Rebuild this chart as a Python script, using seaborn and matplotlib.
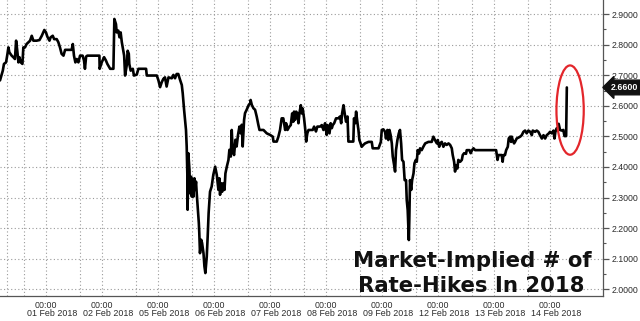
import numpy as np
import pandas as pd
import matplotlib
matplotlib.use("Agg")
import matplotlib.pyplot as plt
import matplotlib.transforms as mtrans
from matplotlib.patches import Ellipse
from matplotlib.ticker import MultipleLocator
import seaborn as sns

# ---------------- data ----------------
# trading sessions shown on the axis (each session spans 24 axis-hours)
session_dates = ["01 Feb 2018", "02 Feb 2018", "05 Feb 2018", "06 Feb 2018", "07 Feb 2018",
                 "08 Feb 2018", "09 Feb 2018", "12 Feb 2018", "13 Feb 2018", "14 Feb 2018"]
midnight_label = "00:00"
midnight_offset = 9.4          # position of 00:00 inside each session (axis-hours)

# time in axis-hours since start of the 01 Feb session
hours = [
    -10.3, -9.1, -8.6, -7.7, -7.1, -6.7, -6.3, -5.3, -4.6, -3.9, -3.4, -2.9, -2.4, -2.0, -1.4, -0.7, -0.3,
    0.4, 1.1, 1.9, 2.6, 3.3, 4.0, 5.4, 6.6, 7.6, 8.7, 9.4, 10.0, 10.9, 11.4, 12.3, 12.9, 14.0, 14.7, 15.4,
    16.1, 16.9, 17.6, 18.3, 20.4, 20.9, 21.4, 22.0, 22.6, 23.3, 24.0, 25.1, 25.7, 26.1, 26.6, 27.1, 32.3,
    32.4, 33.3, 34.3, 35.1, 35.7, 36.9, 38.3, 38.7, 39.4, 39.7, 40.4, 40.9, 41.4, 41.9, 42.3, 42.9, 43.3,
    44.0, 44.4, 44.9, 45.1, 45.7, 46.6, 47.1, 48.3, 49.0, 52.3, 52.6, 56.9, 57.6, 58.3, 59.0, 59.7, 60.4,
    61.1, 61.9, 63.3, 64.0, 64.7, 65.4, 66.1, 66.9, 67.6, 68.0, 68.6, 69.0, 69.4, 69.7, 70.0, 70.1, 70.4,
    70.9, 71.1, 71.6, 71.9, 72.3, 72.6, 73.0, 73.3, 73.7, 74.0, 74.4, 74.9, 75.1, 75.4, 75.9, 76.3, 76.9,
    77.3, 77.7, 78.3, 78.7, 79.1, 79.7, 80.4, 81.1, 81.9, 82.6, 83.3, 83.7, 84.0, 84.4, 84.9, 85.4, 85.9,
    86.3, 86.9, 87.6, 88.0, 88.6, 89.0, 89.4, 90.0, 90.6, 91.1, 91.7, 92.3, 92.9, 93.3, 93.7, 94.3, 94.7,
    95.4, 96.3, 96.9, 97.1, 97.6, 98.3, 99.0, 99.7, 100.4, 100.9, 102.6, 104.0, 105.4, 106.6, 106.9,
    108.3, 109.0, 109.7, 110.4, 111.1, 111.9, 112.3, 112.9, 113.7, 114.3, 114.9, 115.4, 115.7, 116.1,
    116.6, 117.1, 117.6, 118.0, 118.6, 119.0, 119.4, 120.0, 120.6, 120.9, 121.4, 121.9, 123.7, 124.3,
    125.1, 125.7, 126.9, 127.6, 128.3, 129.0, 129.7, 130.1, 130.9, 131.4, 131.9, 132.3, 132.9, 133.7,
    134.7, 135.4, 135.9, 136.3, 136.9, 137.6, 138.0, 138.6, 139.0, 141.1, 141.4, 141.9, 142.3, 142.9,
    143.3, 143.7, 144.0, 144.7, 145.4, 146.1, 147.6, 149.0, 149.4, 151.9, 152.9, 153.3, 154.0, 154.7,
    155.1, 155.7, 156.1, 156.6, 157.1, 157.6, 158.0, 158.6, 159.0, 159.4, 160.0, 160.6, 161.1, 161.6,
    162.0, 162.6, 163.1, 163.7, 164.0, 164.4, 164.9, 165.1, 165.4, 165.9, 166.3, 166.9, 167.3, 167.9,
    168.3, 168.7, 169.3, 169.7, 170.4, 171.1, 171.9, 173.3, 174.7, 175.4, 176.1, 176.9, 177.3, 177.9,
    178.3, 179.0, 179.7, 180.4, 181.1, 181.9, 182.6, 183.3, 183.7, 184.3, 184.7, 185.1, 185.7, 186.1,
    186.9, 187.6, 188.0, 188.6, 189.4, 189.7, 190.9, 191.4, 192.0, 192.6, 193.3, 202.3, 202.6, 202.9,
    203.3, 204.7, 205.1, 205.4, 206.1, 206.6, 207.3, 207.7, 208.3, 208.7, 209.0, 209.4, 210.0, 210.4,
    211.1, 212.6, 213.3, 214.0, 214.7, 215.4, 216.1, 216.9, 217.6, 218.0, 219.0, 219.7, 220.4, 221.1,
    221.9, 222.6, 223.3, 224.0, 224.9, 225.4, 226.1, 226.9, 227.3, 227.7, 228.3, 228.7, 229.1, 229.7,
    230.4, 231.1, 231.6, 232.3, 232.6,
]
values = [
    2.683, 2.715, 2.737, 2.742, 2.770, 2.791, 2.775, 2.764, 2.759, 2.753, 2.813, 2.780, 2.742, 2.759, 2.742, 2.737, 2.791,
    2.791, 2.802, 2.808, 2.813, 2.829, 2.813, 2.813, 2.815, 2.829, 2.848, 2.840, 2.826, 2.813, 2.824, 2.829, 2.818, 2.818, 2.808, 2.791,
    2.770, 2.764, 2.783, 2.783, 2.783, 2.802, 2.764, 2.742, 2.753, 2.742, 2.764, 2.764, 2.748, 2.721, 2.761, 2.764, 2.764,
    2.721, 2.742, 2.759, 2.748, 2.737, 2.721, 2.721, 2.884, 2.867, 2.840, 2.846, 2.824, 2.840, 2.808, 2.791, 2.764, 2.699,
    2.732, 2.780, 2.770, 2.737, 2.715, 2.721, 2.699, 2.702, 2.721, 2.721, 2.699, 2.699, 2.683, 2.661, 2.677, 2.688, 2.693,
    2.663, 2.693, 2.690, 2.701, 2.690, 2.704, 2.704, 2.684, 2.668, 2.641, 2.586, 2.554, 2.521, 2.467, 2.368, 2.260, 2.445,
    2.390, 2.314, 2.368, 2.303, 2.358, 2.303, 2.363, 2.325, 2.352, 2.314, 2.271, 2.217, 2.184, 2.118, 2.162, 2.151, 2.118,
    2.075, 2.053, 2.107, 2.173, 2.249, 2.319, 2.336, 2.374, 2.401, 2.374, 2.325, 2.363, 2.309, 2.347, 2.319, 2.347, 2.325,
    2.379, 2.401, 2.423, 2.456, 2.434, 2.521, 2.456, 2.439, 2.489, 2.467, 2.505, 2.532, 2.510, 2.538, 2.467, 2.554, 2.576,
    2.587, 2.603, 2.608, 2.619, 2.603, 2.592, 2.587, 2.565, 2.538, 2.521, 2.521, 2.510, 2.505, 2.499, 2.483,
    2.483, 2.499, 2.521, 2.559, 2.559, 2.521, 2.543, 2.521, 2.532, 2.537, 2.575, 2.548, 2.581, 2.554,
    2.581, 2.575, 2.543, 2.575, 2.602, 2.575, 2.591, 2.559, 2.516, 2.483, 2.510, 2.521, 2.521, 2.532,
    2.516, 2.532, 2.532, 2.537, 2.521, 2.543, 2.505, 2.537, 2.510, 2.543, 2.527, 2.537, 2.543, 2.559,
    2.559, 2.565, 2.543, 2.575, 2.602, 2.565, 2.548, 2.565, 2.483, 2.483, 2.559, 2.543, 2.581, 2.543,
    2.521, 2.488, 2.482, 2.466, 2.472, 2.477, 2.482, 2.482, 2.461, 2.461, 2.482, 2.521, 2.523, 2.515,
    2.493, 2.521, 2.488, 2.521, 2.504, 2.477, 2.434, 2.406, 2.385, 2.455, 2.488, 2.510, 2.521, 2.477,
    2.423, 2.417, 2.357, 2.357, 2.292, 2.259, 2.161, 2.227, 2.357, 2.325, 2.357, 2.379, 2.412, 2.423,
    2.417, 2.455, 2.444, 2.461, 2.455, 2.466, 2.477, 2.482, 2.482, 2.499, 2.488, 2.477, 2.488, 2.466,
    2.477, 2.482, 2.466, 2.477, 2.472, 2.477, 2.472, 2.461, 2.439, 2.417, 2.385, 2.406, 2.395, 2.423,
    2.417, 2.423, 2.439, 2.445, 2.443, 2.455, 2.455, 2.445, 2.455, 2.461, 2.455, 2.455, 2.439, 2.423,
    2.439, 2.439, 2.417, 2.439, 2.439, 2.455, 2.466, 2.493, 2.499, 2.482, 2.499, 2.488, 2.477, 2.482,
    2.493, 2.499, 2.504, 2.515, 2.519, 2.510, 2.519, 2.515, 2.504, 2.519, 2.515, 2.519, 2.515, 2.504,
    2.493, 2.504, 2.493, 2.504, 2.510, 2.515, 2.510, 2.519, 2.493, 2.515, 2.527, 2.521, 2.541, 2.521,
    2.519, 2.521, 2.501, 2.501, 2.660,
]
last_value = 2.66
y_ticks = [2.0, 2.1, 2.2, 2.3, 2.4, 2.5, 2.6, 2.7, 2.8, 2.9]
title_lines = ["Market-Implied # of", "Rate-Hikes In 2018"]

# ---------------- style ----------------
sns.set_theme(style="white")
plt.rcParams["font.family"] = ["DejaVu Sans"]
SMALL_FONT = ["Liberation Sans", "DejaVu Sans"]

W, H = 640, 321
fig = plt.figure(figsize=(W / 100, H / 100), dpi=100)
fig.patch.set_facecolor("white")
ax = fig.add_axes([0, 25 / H, 603 / W, 296 / H])
ax.set_facecolor("white")

df = pd.DataFrame({"hour": hours, "value": values})
sns.lineplot(data=df, x="hour", y="value", ax=ax, color="black", linewidth=1.9,
             estimator=None, sort=False, zorder=5)

ax.set_xlim(-10.3, 248.1)
ax.set_ylim(1.978, 2.946)
ax.set_xlabel("")
ax.set_ylabel("")

for s in ["left", "top"]:
    ax.spines[s].set_visible(False)
for s in ["right", "bottom"]:
    ax.spines[s].set_color("#555555")
    ax.spines[s].set_linewidth(0.9)

# y axis on the right
ax.yaxis.tick_right()
ax.set_yticks(y_ticks)
ax.set_yticklabels([f"{v:.4f}" for v in y_ticks], family=SMALL_FONT)
ax.yaxis.set_minor_locator(MultipleLocator(0.05))
ax.tick_params(axis="y", which="major", length=4, width=0.9, color="#555555",
               labelsize=6.3, labelcolor="#2b2b2b", pad=2.3, right=True, left=False)
ax.tick_params(axis="y", which="minor", length=2, width=0.8, color="#555555", right=True, left=False)

# x axis: session separators + 00:00 labels
seps = [24 * i for i in range(len(session_dates))]
mids = [s + midnight_offset for s in seps]
ax.set_xticks(seps)
ax.set_xticklabels([""] * len(seps))
ax.set_xticks(mids, minor=True)
ax.set_xticklabels([midnight_label] * len(mids), minor=True, family=SMALL_FONT)
ax.tick_params(axis="x", which="major", length=22, width=0.9, color="#888888", direction="out")
ax.tick_params(axis="x", which="minor", length=2.5, width=0.8, color="#555555", direction="inout",
               labelsize=6.4, labelcolor="#2b2b2b", pad=2)

trans_xd = mtrans.blended_transform_factory(ax.transData, fig.transFigure)
for s, lab in zip(seps, session_dates):
    ax.text(s + 1.2, 7 / H, lab, transform=trans_xd, ha="left", va="center",
            fontsize=6.4, color="#2b2b2b", family=SMALL_FONT, clip_on=False)

# dotted grid
grid_kw = dict(color="#9a9a9a", linewidth=0.8, linestyle=(0, (1, 2.2)), zorder=1)
for y in y_ticks:
    ax.axhline(y, **grid_kw)
for x in seps + mids + [-7.3]:
    ax.axvline(x, **grid_kw)

# red highlight ellipse around last spike
ax.add_patch(Ellipse((234.0, 2.586), width=11.7, height=0.292, fill=False,
                     edgecolor="#e3262b", linewidth=1.6, zorder=6))

# last value tag
trans_fy = mtrans.blended_transform_factory(fig.transFigure, ax.transData)
ax.text(611 / W, last_value, f"{last_value:.4f}", transform=trans_fy, ha="left", va="center",
        fontsize=6.4, fontweight="bold", color="white", family=SMALL_FONT, clip_on=False, zorder=10,
        bbox=dict(boxstyle="larrow,pad=0.32", fc="#111111", ec="#111111"))

# big caption
fig.text(472 / W, 1 - 267 / H, title_lines[0], ha="center", va="baseline",
         fontsize=15.3, fontweight="bold", color="#111111")
fig.text(471 / W, 1 - 291.5 / H, title_lines[1], ha="center", va="baseline",
         fontsize=15.3, fontweight="bold", color="#111111")

fig.savefig("out.png", dpi=100, facecolor="white")
